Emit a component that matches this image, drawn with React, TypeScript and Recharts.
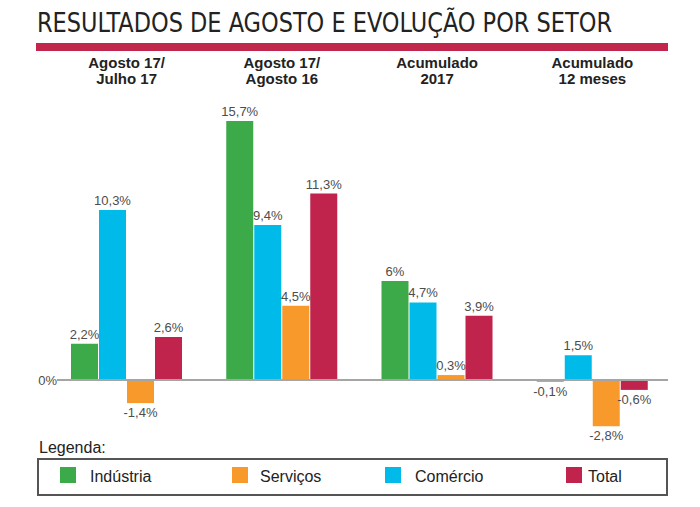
import { Bar, BarChart, LabelList, ReferenceLine, XAxis, YAxis } from "recharts";

// categories (two-line labels split by "|")
const CATEGORIES = [
  "Agosto 17/|Julho 17",
  "Agosto 17/|Agosto 16",
  "Acumulado|2017",
  "Acumulado|12 meses",
];

// values in % per sector
const INDUSTRIA = [2.2, 15.7, 6, -0.1];
const COMERCIO = [10.3, 9.4, 4.7, 1.5];
const SERVICOS = [-1.4, 4.5, 0.3, -2.8];
const TOTAL = [2.6, 11.3, 3.9, -0.6];

const COLORS = {
  industria: "#3daa4a",
  comercio: "#00bbe9",
  servicos: "#f89a2b",
  total: "#c0234b",
};

// bars drawn in this order
const BAR_SERIES = [
  { key: "industria", name: "Indústria" },
  { key: "comercio", name: "Comércio" },
  { key: "servicos", name: "Serviços" },
  { key: "total", name: "Total" },
] as const;

// legend order (with positions of the legend row)
const LEGEND_ITEMS = [
  { key: "industria", name: "Indústria", sx: 60, tx: 90 },
  { key: "servicos", name: "Serviços", sx: 232, tx: 260 },
  { key: "comercio", name: "Comércio", sx: 385, tx: 415 },
  { key: "total", name: "Total", sx: 566, tx: 588 },
] as const;

const data = CATEGORIES.map((name, i) => ({
  name,
  industria: INDUSTRIA[i],
  comercio: COMERCIO[i],
  servicos: SERVICOS[i],
  total: TOTAL[i],
}));

const LABEL_FONT = "'Liberation Sans', Arial, sans-serif";
const NARROW_FONT =
  "'Liberation Sans Narrow', 'DejaVu Sans Condensed', 'Liberation Sans', sans-serif";

const fmt = (v: number) => `${String(v).replace(".", ",")}%`;

function CategoryTick({ x, payload }: any) {
  const lines = String(payload.value).split("|");
  return (
    <text
      textAnchor="middle"
      fontFamily={LABEL_FONT}
      fontWeight="bold"
      fontSize={15}
      fill="#222"
    >
      {lines.map((line, i) => (
        <tspan key={i} x={x} y={68 + i * 16}>
          {line}
        </tspan>
      ))}
    </text>
  );
}

function renderValue(props: any) {
  const { x, y, width, height, value } = props;
  const top = Math.min(y, y + height);
  const bottom = Math.max(y, y + height);
  const neg = value < 0;
  return (
    <text
      x={x + width / 2}
      y={neg ? bottom + 14 : top - 5}
      textAnchor="middle"
      fontFamily={LABEL_FONT}
      fontSize={13}
      fill="#4d4d4d"
    >
      {fmt(value)}
    </text>
  );
}

function ZeroLine(props: any) {
  const { x1, y1, x2, y2 } = props;
  return <line x1={x1 + 8} y1={y1} x2={x2 - 2} y2={y2} stroke="#a5a5a5" strokeWidth={2} />;
}

function ZeroLabel(props: any) {
  const { viewBox } = props;
  return (
    <text
      x={viewBox.x + 8}
      y={viewBox.y + 5}
      textAnchor="end"
      fontFamily={LABEL_FONT}
      fontSize={13}
      fill="#4d4d4d"
    >
      0%
    </text>
  );
}

export default function App() {
  return (
    <div
      style={{
        position: "absolute",
        top: 0,
        left: 0,
        width: 700,
        height: 507,
        background: "#fff",
      }}
    >
      <BarChart
        width={700}
        height={507}
        data={data}
        margin={{ top: 76, right: 30, bottom: 61, left: 49 }}
        barSize={27}
        barGap={1}
      >
        <XAxis
          dataKey="name"
          orientation="top"
          height={40}
          axisLine={false}
          tickLine={false}
          interval={0}
          tick={<CategoryTick />}
        />
        <YAxis hide domain={[-4, 16]} />
        <ReferenceLine y={0} shape={ZeroLine} label={<ZeroLabel />} />
        {BAR_SERIES.map((s) => (
          <Bar
            key={s.key}
            dataKey={s.key}
            name={s.name}
            fill={COLORS[s.key]}
            isAnimationActive={false}
          >
            <LabelList dataKey={s.key} content={renderValue} />
          </Bar>
        ))}
      </BarChart>

      <svg
        width={700}
        height={507}
        style={{ position: "absolute", top: 0, left: 0, pointerEvents: "none" }}
      >
        <text
          x={37}
          y={32}
          fontFamily={NARROW_FONT}
          fontSize={26}
          fill="#222"
          textLength={575}
          lengthAdjust="spacingAndGlyphs"
        >
          RESULTADOS DE AGOSTO E EVOLUÇÃO POR SETOR
        </text>
        <rect x={36} y={43} width={632} height={8} fill="#c1264d" />

        <text x={39} y={453} fontFamily={LABEL_FONT} fontSize={16} fill="#222">
          Legenda:
        </text>
        <rect
          x={38}
          y={459}
          width={629}
          height={36}
          fill="none"
          stroke="#555"
          strokeWidth={2}
        />
        {LEGEND_ITEMS.map((item) => (
          <g key={item.key}>
            <rect x={item.sx} y={467} width={16} height={16} fill={COLORS[item.key]} />
            <text
              x={item.tx}
              y={482}
              fontFamily={LABEL_FONT}
              fontSize={16}
              fill="#222"
            >
              {item.name}
            </text>
          </g>
        ))}
      </svg>
    </div>
  );
}
